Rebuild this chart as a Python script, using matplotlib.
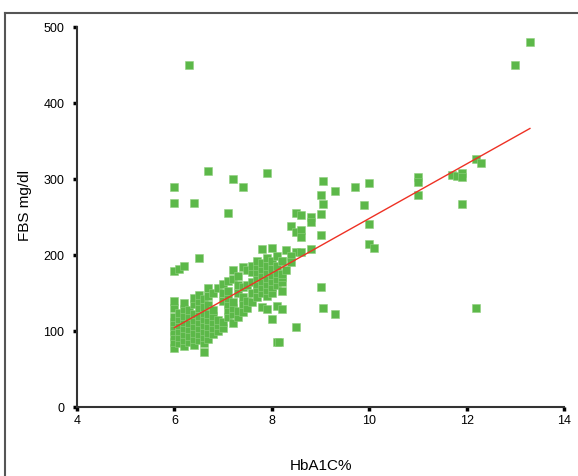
import matplotlib
matplotlib.use("Agg")
import matplotlib.pyplot as plt
from matplotlib.lines import Line2D
import numpy as np

plt.rcParams['font.family'] = ['Liberation Sans', 'DejaVu Sans']

# dense group around HbA1C 6-7
low_x = [6.0, 6.0, 6.0, 6.0, 6.0, 6.0, 6.0, 6.0, 6.0,
         6.1, 6.1, 6.1, 6.1, 6.1, 6.1,
         6.2, 6.2, 6.2, 6.2, 6.2, 6.2, 6.2, 6.2,
         6.3, 6.3, 6.3, 6.3, 6.3, 6.3,
         6.4, 6.4, 6.4, 6.4, 6.4, 6.4, 6.4, 6.4,
         6.5, 6.5, 6.5, 6.5, 6.5, 6.5, 6.5, 6.5,
         6.6, 6.6, 6.6, 6.6, 6.6, 6.6, 6.6, 6.6, 6.6,
         6.7, 6.7, 6.7, 6.7, 6.7, 6.7, 6.7, 6.7,
         6.8, 6.8, 6.8, 6.8, 6.8, 6.8,
         6.9, 6.9, 6.9, 6.9]
low_y = [78, 86, 94, 100, 106, 112, 118, 130, 140,
         84, 92, 100, 108, 116, 124,
         80, 88, 96, 104, 112, 120, 129, 137,
         86, 94, 102, 110, 120, 128,
         82, 90, 98, 106, 114, 122, 135, 144,
         88, 96, 104, 112, 120, 130, 140, 148,
         73, 84, 92, 100, 108, 116, 124, 132, 142,
         89, 98, 106, 114, 122, 134, 146, 157,
         96, 104, 112, 120, 128, 150,
         100, 108, 114, 157]

# group around HbA1C 7-8.3
mid_x = [7.0, 7.0, 7.0, 7.0, 7.0,
         7.1, 7.1, 7.1, 7.1, 7.1, 7.1,
         7.2, 7.2, 7.2, 7.2, 7.2, 7.2,
         7.3, 7.3, 7.3, 7.3, 7.3,
         7.4, 7.4, 7.4, 7.4, 7.4,
         7.5, 7.5, 7.5, 7.5,
         7.6, 7.6, 7.6, 7.6, 7.6,
         7.7, 7.7, 7.7, 7.7, 7.7, 7.7, 7.7,
         7.8, 7.8, 7.8, 7.8, 7.8, 7.8, 7.8, 7.8,
         7.9, 7.9, 7.9, 7.9, 7.9, 7.9, 7.9, 7.9,
         8.0, 8.0, 8.0, 8.0, 8.0, 8.0, 8.0, 8.0,
         8.1, 8.1, 8.1, 8.1, 8.1, 8.1, 8.1,
         8.2, 8.2, 8.2, 8.2, 8.2, 8.2,
         8.3, 8.3]
mid_y = [104, 112, 140, 150, 162,
         118, 127, 135, 144, 152, 166,
         110, 122, 130, 138, 168, 180,
         118, 126, 150, 160, 172,
         125, 135, 145, 158, 184,
         130, 140, 160, 180,
         138, 150, 165, 178, 186,
         145, 155, 162, 170, 178, 185, 192,
         131, 150, 158, 166, 174, 182, 190, 208,
         129, 146, 154, 162, 170, 178, 186, 196,
         116, 150, 158, 166, 174, 182, 192, 209,
         85, 133, 160, 168, 176, 186, 199,
         129, 152, 165, 171, 175, 192,
         180, 206]

# scattered points
high_x = [6.3, 13.3, 13.0, 6.0, 6.0, 6.4, 6.7, 7.2, 7.4, 7.9, 7.1, 6.5,
          6.0, 6.1, 6.2,
          9.05, 9.0, 9.05, 8.5, 8.6, 8.8, 8.8, 9.0, 8.4, 8.5, 8.6, 8.6,
          9.0, 8.8, 8.5, 8.6, 8.4, 8.4, 8.2, 9.0, 9.05, 9.3, 8.5, 8.15,
          9.3, 9.7, 10.0, 9.9, 10.0, 10.0, 10.1,
          11.0, 11.0, 11.0, 11.7, 11.8, 11.9, 11.9, 11.9, 12.2, 12.3, 12.2]
high_y = [450, 480, 450, 289, 268, 268, 311, 300, 289, 308, 255, 196,
          179, 181, 185,
          298, 279, 267, 255, 252, 250, 243, 254, 238, 230, 233, 224,
          226, 208, 204, 204, 199, 191, 192, 158, 130, 122, 105, 85,
          284, 289, 295, 266, 241, 214, 209,
          303, 296, 279, 305, 304, 308, 303, 267, 326, 321, 130]

# fitted line
fit_intercept = -111
fit_slope = 35.9
fit_range = [6.0, 13.3]

fig = plt.figure(figsize=(5.78, 4.77), dpi=100)
ax = fig.add_axes([0.1332, 0.1447, 0.8426, 0.7966])

green = '#5cb849'
for xs, ys in [(low_x, low_y), (mid_x, mid_y), (high_x, high_y)]:
    ax.scatter(xs, ys, marker='s', s=26, color=green, edgecolors='#8fd07f',
               linewidths=0.4, zorder=2, clip_on=False)

fx = np.array(fit_range)
ax.plot(fx, fit_intercept + fit_slope * fx, color='#ee3124', lw=1.0, zorder=3)

ax.set_xlim(4, 14)
ax.set_ylim(0, 500)
ax.set_xticks([4, 6, 8, 10, 12, 14])
ax.set_yticks([0, 100, 200, 300, 400, 500])
for s in ['top', 'right']:
    ax.spines[s].set_visible(False)
for s in ['left', 'bottom']:
    ax.spines[s].set_color('#333333')
    ax.spines[s].set_linewidth(1.5)
ax.tick_params(axis='both', direction='out', length=3, width=2.5,
               color='black', labelsize=9)
ax.tick_params(axis='y', pad=6)
ax.tick_params(axis='x', pad=2)

ax.set_xlabel('HbA1C%', fontsize=11)
ax.xaxis.set_label_coords(0.5, -0.135)
ax.set_ylabel('FBS mg/dl', fontsize=11)
ax.yaxis.set_label_coords(-0.092, 0.534)

# outer frame (top and left only)
fig.add_artist(Line2D([0.0087, 1.0], [0.9706, 0.9706], color='#555555', lw=1.5))
fig.add_artist(Line2D([0.0087, 0.0087], [0.0, 0.9706], color='#555555', lw=1.5))

fig.savefig('out.png', dpi=100)
